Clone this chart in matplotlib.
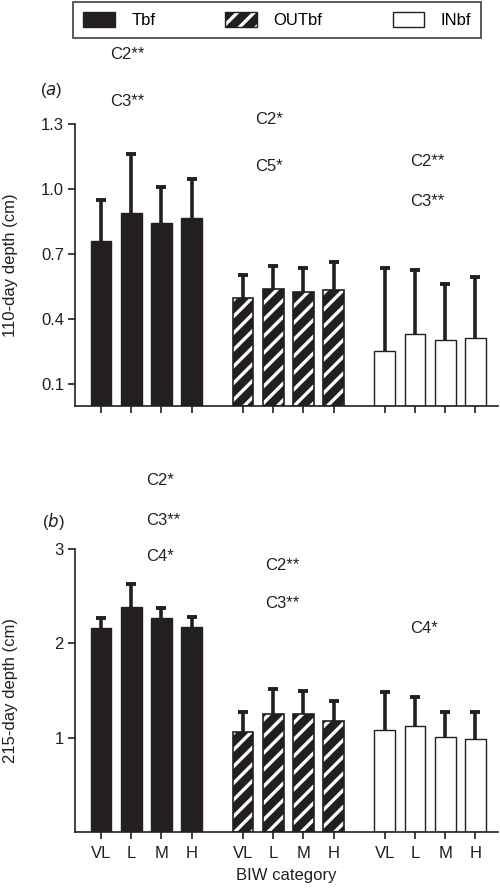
import matplotlib
matplotlib.use("Agg")
import matplotlib.pyplot as plt
from matplotlib.patches import Patch
import numpy as np

plt.rcParams['font.family'] = ['Liberation Sans', 'DejaVu Sans']
plt.rcParams['hatch.linewidth'] = 2.4
plt.rcParams['font.size'] = 12

K = '#231f20'
FS = 12

categories = ['VL', 'L', 'M', 'H']
groups = ['Tbf', 'OUTbf', 'INbf']

# Panel (a): 110-day depth (cm)
a_tbf = [0.761, 0.888, 0.842, 0.865]
a_tbf_err = [0.187, 0.275, 0.167, 0.181]
a_out = [0.497, 0.539, 0.524, 0.537]
a_out_err = [0.109, 0.108, 0.111, 0.125]
a_in = [0.252, 0.333, 0.306, 0.315]
a_in_err = [0.384, 0.295, 0.255, 0.281]

# Panel (b): 215-day depth (cm)
b_tbf = [2.162, 2.384, 2.261, 2.166]
b_tbf_err = [0.106, 0.237, 0.106, 0.109]
b_out = [1.061, 1.249, 1.245, 1.171]
b_out_err = [0.212, 0.264, 0.250, 0.218]
b_in = [1.083, 1.125, 1.002, 0.984]
b_in_err = [0.395, 0.300, 0.265, 0.286]

a_yticks = [0.1, 0.4, 0.7, 1.0, 1.3]
a_yticklabels = ['0.1', '0.4', '0.7', '1.0', '1.3']
b_yticks = [1, 2, 3]
b_yticklabels = ['1', '2', '3']

# significance annotations: (group index, lines)
a_notes = [(0, ['C2**', 'C3**']), (1, ['C2*', 'C5*']), (2, ['C2**', 'C3**'])]
b_notes = [(0, ['C2*', 'C3**', 'C4*']), (1, ['C2**', 'C3**']), (2, ['C4*'])]

W, H = 500, 894
fig = plt.figure(figsize=(W / 100, H / 100), dpi=100)

def fx(px):
    return px / W

def fy(py):
    return 1 - py / H

ax_a = fig.add_axes([fx(75), fy(406), fx(498) - fx(75), fy(124) - fy(406)])
ax_b = fig.add_axes([fx(75), fy(832), fx(498) - fx(75), fy(548.7) - fy(832)])

group_offsets = [0.0, 4.7, 9.4]
bw = 0.69

def draw(ax, data, ylim, yticks, yticklabels, ylabel, xlabels):
    for gi, (vals, errs) in enumerate(data):
        x = np.arange(4) + group_offsets[gi]
        vals = np.array(vals)
        errs = np.array(errs)
        if gi == 0:
            ax.bar(x, vals, width=bw, color=K, edgecolor=K, linewidth=1, zorder=2)
        elif gi == 1:
            ax.bar(x, vals, width=bw, color=K, edgecolor='white', hatch='//',
                   linewidth=0, zorder=2)
            ax.bar(x, vals, width=bw, color='none', edgecolor=K, linewidth=1.2, zorder=3)
        else:
            ax.bar(x, vals, width=bw, color='white', edgecolor=K, linewidth=1, zorder=2)
        ax.vlines(x, vals, vals + errs, colors=K, linewidth=2.6, zorder=4)
        ax.plot(x, vals + errs, linestyle='none', marker='_', markersize=7.5,
                markeredgewidth=2.8, color=K, zorder=4)
    xt = np.concatenate([np.arange(4) + o for o in group_offsets])
    ax.set_xticks(xt)
    ax.set_xticklabels(categories * 3 if xlabels else [''] * 12)
    ax.set_xlim(-0.861, 13.146)
    ax.set_ylim(*ylim)
    ax.set_yticks(yticks)
    ax.set_yticklabels(yticklabels)
    for s in ['top', 'right']:
        ax.spines[s].set_visible(False)
    for s in ['left', 'bottom']:
        ax.spines[s].set_linewidth(1.2)
        ax.spines[s].set_color(K)
    ax.tick_params(axis='both', direction='out', length=5, width=1.2, colors=K,
                   labelsize=FS, pad=3)
    ax.tick_params(axis='x', pad=5)
    ax.set_ylabel(ylabel, fontsize=FS, color=K)
    ax.yaxis.set_label_coords(-0.135, 0.5)

draw(ax_a, [(a_tbf, a_tbf_err), (a_out, a_out_err), (a_in, a_in_err)],
     (0, 1.3), a_yticks, a_yticklabels, '110-day depth (cm)', False)
draw(ax_b, [(b_tbf, b_tbf_err), (b_out, b_out_err), (b_in, b_in_err)],
     (0, 3), b_yticks, b_yticklabels, '215-day depth (cm)', True)
ax_b.set_xlabel('BIW category', fontsize=FS, color=K, labelpad=5)

# annotations (positions in data coordinates)
a_note_x = [0.3, 5.1, 10.25]
a_note_y = [[1.62, 1.404], [1.321, 1.106], [1.128, 0.945]]
for (gi, lines) in a_notes:
    for li, t in enumerate(lines):
        ax_a.text(a_note_x[gi], a_note_y[gi][li], t, ha='left', va='center',
                  fontsize=FS, color=K, clip_on=False)
b_note_x = [1.51, 5.43, 10.25]
b_note_y = [[3.725, 3.30, 2.913], [2.825, 2.423], [2.159]]
for (gi, lines) in b_notes:
    for li, t in enumerate(lines):
        ax_b.text(b_note_x[gi], b_note_y[gi][li], t, ha='left', va='center',
                  fontsize=FS, color=K, clip_on=False)

fig.text(fx(40), fy(90), r'($\it{a}$)', ha='left', va='center', fontsize=FS, color=K)
fig.text(fx(41.7), fy(521), r'($\it{b}$)', ha='left', va='center', fontsize=FS, color=K)

# legend
h_t = Patch(facecolor=K, edgecolor=K, linewidth=1)
h_o = (Patch(facecolor=K, edgecolor='white', hatch='//', linewidth=0),
       Patch(facecolor='none', edgecolor=K, linewidth=1))
h_i = Patch(facecolor='white', edgecolor=K, linewidth=1)
leg = fig.legend([h_t, h_o, h_i], groups, loc='upper left', ncol=3,
                 bbox_to_anchor=(fx(73), fy(2)),
                 frameon=True, fancybox=False, edgecolor=K, fontsize=FS,
                 handlelength=1.9, handleheight=1.0, handletextpad=1.0,
                 columnspacing=4.2, borderaxespad=0, borderpad=0.6)
leg.get_frame().set_linewidth(1.3)

fig.savefig('out.png', dpi=100)
